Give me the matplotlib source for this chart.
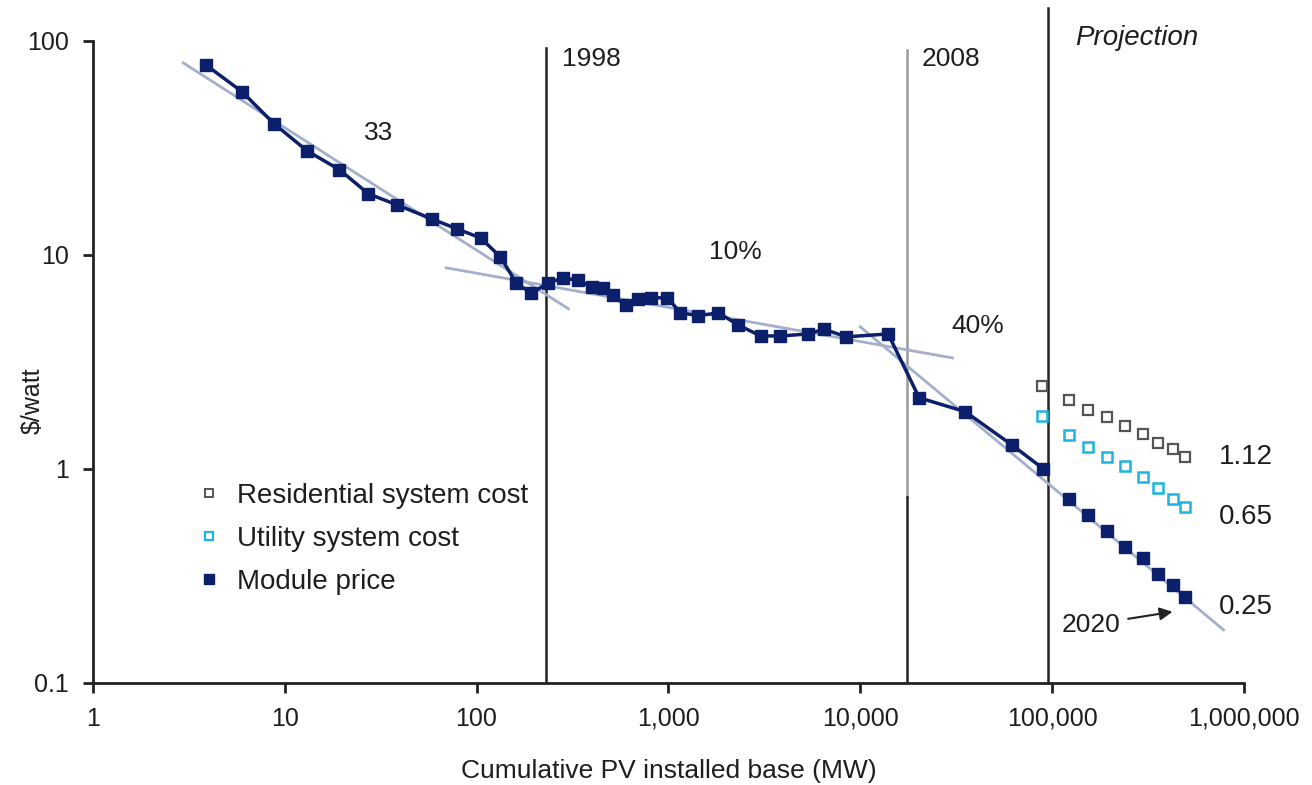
import numpy as np
import matplotlib.pyplot as plt
from matplotlib.lines import Line2D

plt.rcParams['font.family'] = ['Liberation Sans', 'DejaVu Sans']

# historical module price ($/watt) vs cumulative installed base (MW)
hist_mw = [3.9, 6.0, 8.8, 13.1, 19.3, 27.3, 38.6, 58.8, 79.5, 105, 133, 161, 193,
           236, 283, 339, 398, 457, 512, 598, 691, 807, 989, 1156, 1435, 1823,
           2317, 3020, 3838, 5370, 6460, 8430, 13970, 20270, 35240, 62000, 90100]
hist_price = [77, 57.8, 41, 30.6, 25, 19.3, 17.1, 14.7, 13.2, 12.0, 9.8, 7.4, 6.6,
              7.4, 7.8, 7.6, 7.1, 7.0, 6.5, 5.8, 6.2, 6.3, 6.3, 5.36, 5.2, 5.36,
              4.7, 4.18, 4.18, 4.27, 4.5, 4.14, 4.27, 2.15, 1.85, 1.29, 1.0]

# projections
proj_mw = [123000, 154600, 194000, 241000, 296000, 354000, 424000, 490000]
proj_module = [0.724, 0.61, 0.513, 0.432, 0.384, 0.323, 0.287, 0.252]
sys_mw = [89000, 123000, 154600, 194000, 241000, 296000, 354000, 424000, 490000]
residential = [2.44, 2.10, 1.89, 1.75, 1.59, 1.46, 1.32, 1.24, 1.14]
utility = [1.77, 1.44, 1.27, 1.14, 1.03, 0.92, 0.815, 0.724, 0.664]

# learning-curve trend segments (start, end)
trend_x = [(2.96, 301), (69.5, 30200), (10000, 782000)]
trend_y = [(78.9, 5.6), (8.7, 3.3), (4.61, 0.177)]
trend_labels = ['33', '10%', '40%']
trend_label_pos = [(30.7, 37.2), (2234, 10.3), (40800, 4.66)]

end_labels = ['1.12', '0.65', '0.25']
end_label_y = [1.14, 0.597, 0.226]

navy = '#0b1f6b'
trend_c = '#a3afcb'
txt = '#1e1e1e'

fig = plt.figure(figsize=(13.12, 7.85), dpi=100)
ax = fig.add_axes([0.0707, 0.13, 0.8775, 0.818])
ax.set_xscale('log')
ax.set_yscale('log')
ax.set_xlim(1, 1e6)
ax.set_ylim(0.1, 100)

for (x0, x1), (y0, y1) in zip(trend_x, trend_y):
    ax.plot([x0, x1], [y0, y1], color=trend_c, lw=2, zorder=2, clip_on=False)

# vertical markers
ax.plot([231, 231], [0.1, 92.7], color='#222222', lw=1.8, zorder=1)
ax.plot([17540, 17540], [0.74, 90.8], color='#9a9a9a', lw=1.8, zorder=1)
ax.plot([17540, 17540], [0.1, 0.74], color='#222222', lw=1.8, zorder=1)
ax.plot([95700, 95700], [0.1, 142], color='#222222', lw=1.8, zorder=1, clip_on=False)

ax.plot(hist_mw, hist_price, color=navy, lw=2.5, marker='s', markersize=8, zorder=4)
ax.plot(proj_mw, proj_module, ls='none', color=navy, marker='s', markersize=8, zorder=4)
ax.plot(sys_mw, residential, ls='none', marker='s', markersize=6.5, mfc='white',
        mec='#555555', mew=1.6, zorder=4)
ax.plot(sys_mw, utility, ls='none', marker='s', markersize=6.5, mfc='white',
        mec='#1fb4e0', mew=1.8, zorder=4)

fs = 19
ax.text(280, 82, '1998', fontsize=fs, ha='left', va='center', color=txt)
ax.text(20800, 82, '2008', fontsize=fs, ha='left', va='center', color=txt)
ax.text(132400, 103, 'Projection', fontsize=fs + 1, ha='left', va='center',
        style='italic', color=txt)
for lab, (lx, ly) in zip(trend_labels, trend_label_pos):
    ax.text(lx, ly, lab, fontsize=fs, ha='center', va='center', color=txt)
for lab, ly in zip(end_labels, end_label_y):
    ax.text(736000, ly, lab, fontsize=fs + 1, ha='left', va='center', color=txt)
ax.annotate('2020', xy=(424000, 0.215), xytext=(158500, 0.187), fontsize=fs,
            ha='center', va='center', color=txt,
            arrowprops=dict(arrowstyle='-|>', color='#222222', lw=1.5, shrinkA=4, shrinkB=0))

ax.set_xticks([1, 10, 100, 1000, 10000, 100000, 1000000])
ax.set_xticklabels(['1', '10', '100', '1,000', '10,000', '100,000', '1,000,000'])
ax.set_yticks([0.1, 1, 10, 100])
ax.set_yticklabels(['0.1', '1', '10', '100'])
ax.minorticks_off()
ax.tick_params(labelsize=18, length=7, width=2, pad=10, colors='#222222', labelcolor=txt)
ax.spines['top'].set_visible(False)
ax.spines['right'].set_visible(False)
for side in ['left', 'bottom']:
    ax.spines[side].set_linewidth(2)
    ax.spines[side].set_color('#222222')

ax.set_xlabel('Cumulative PV installed base (MW)', fontsize=19, color=txt)
ax.xaxis.set_label_coords(0.5, -0.118)
ax.set_ylabel('$/watt', fontsize=18, color=txt)
ax.yaxis.set_label_coords(-0.042, 0.44)

handles = [
    Line2D([], [], ls='none', marker='s', markersize=6, mfc='white', mec='#555555', mew=1.4),
    Line2D([], [], ls='none', marker='s', markersize=6, mfc='white', mec='#1fb4e0', mew=1.6),
    Line2D([], [], ls='none', marker='s', markersize=6.5, color=navy),
]
leg = ax.legend(handles, ['Residential system cost', 'Utility system cost', 'Module price'],
                loc='upper left', bbox_to_anchor=(0.07, 0.35), frameon=False,
                fontsize=20, handlelength=0.8, handletextpad=0.6, labelspacing=0.6)
for t in leg.get_texts():
    t.set_color(txt)

fig.savefig('out.png', dpi=100)
